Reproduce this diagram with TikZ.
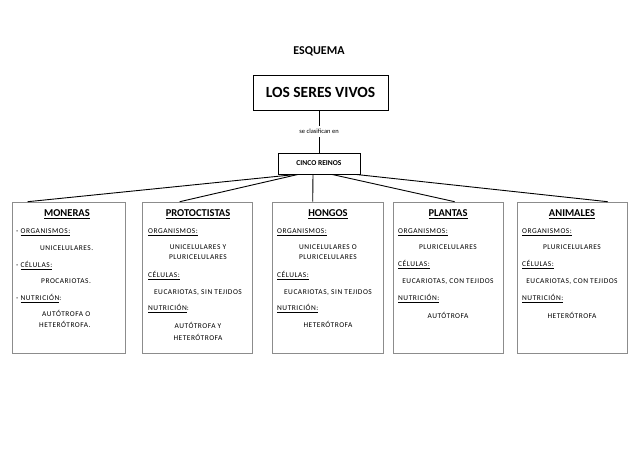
\documentclass[tikz,border=0pt]{standalone}
\usepackage{fontspec}
\setmainfont{Carlito}
\newfontfamily\bodyfont[LetterSpace=7]{Carlito}
\begin{document}
\begin{tikzpicture}[x=1pt,y=-1pt,
  mainbox/.style={draw=black,line width=0.9pt,inner sep=0pt},
  kbox/.style={draw=black!45,line width=0.6pt,inner sep=0pt,minimum height=151pt},
  conn/.style={draw=black,line width=0.9pt},
  ttl/.style={font=\bfseries\fontsize{10.5}{12}\selectfont,inner sep=0pt},
  bd/.style={font=\bodyfont\fontsize{7.4}{8}\selectfont,inner sep=0pt},
  lab/.style={anchor=base west},
  cen/.style={anchor=base}]
\useasboundingbox (0,0) rectangle (638,451);
\fill[white] (0,0) rectangle (638,451);

\node[font=\bfseries\fontsize{12}{14}\selectfont,inner sep=0pt,anchor=base] (esq) at (319,54) {ESQUEMA};

\node[mainbox,minimum width=135pt,minimum height=35pt,font=\bfseries\fontsize{15.5}{18}\selectfont] (seres) at (320.5,92.5) {LOS SERES VIVOS};
\node[mainbox,minimum width=82pt,minimum height=21pt,font=\bfseries\fontsize{7.5}{9}\selectfont] (cinco) at (319,163.5) {CINCO REINOS};

\draw[conn] (seres.south -| cinco.north) -- node[fill=white,inner ysep=3pt,inner xsep=1pt,font=\fontsize{6.5}{8}\selectfont] (clas) {se clasifican en} (cinco.north);

% kingdom boxes
\node[kbox,minimum width=113pt] (mon) at (68.5,277.5) {};
\node[kbox,minimum width=110pt] (pro) at (197,277.5) {};
\node[kbox,minimum width=111pt] (hon) at (327.5,277.5) {};
\node[kbox,minimum width=110pt] (pla) at (448,277.5) {};
\node[kbox,minimum width=110pt] (ani) at (572,277.5) {};

% connectors
\draw[conn] ([xshift=-23pt]cinco.south) -- ([xshift=16pt]mon.north west);
\draw[conn] ([xshift=-21pt]cinco.south) -- ([xshift=38pt]pro.north west);
\draw[conn] ([xshift=-6pt]cinco.south) -- ([xshift=41pt]hon.north west);
\draw[conn] ([xshift=13pt]cinco.south) -- ([xshift=62pt]pla.north west);
\draw[conn] ([xshift=37pt]cinco.south) -- ([xshift=91pt]ani.north west);

% MONERAS
\node[ttl,cen] (monT) at (67,216.5) {\underline{MONERAS}};
\node[bd,lab] (mon1) at (16,233.5) {- \underline{ORGANISMOS:}};
\node[bd,lab] (mon2) at (40,250.5) {UNICELULARES.};
\node[bd,lab] (mon3) at (16,267.5) {- \underline{CÉLULAS:}};
\node[bd,lab] (mon4) at (41,283.5) {PROCARIOTAS.};
\node[bd,lab] (mon5) at (16,300.5) {- \underline{NUTRICIÓN}:};
\node[bd,lab] (mon6) at (42,316.5) {AUTÓTROFA O};
\node[bd,lab] (mon7) at (39,327.5) {HETERÓTROFA.};

% PROTOCTISTAS
\node[ttl,cen] (proT) at (198,216.5) {\underline{PROTOCTISTAS}};
\node[bd,lab] (pro1) at (148,233.5) {\underline{ORGANISMOS:}};
\node[bd,cen] (pro2) at (198,249.5) {UNICELULARES Y};
\node[bd,cen] (pro3) at (198,259.5) {PLURICELULARES};
\node[bd,lab] (pro4) at (148,277.5) {\underline{CÉLULAS:}};
\node[bd,cen] (pro5) at (198,294.5) {EUCARIOTAS, SIN TEJIDOS};
\node[bd,lab] (pro6) at (148,310.5) {\underline{NUTRICIÓN}:};
\node[bd,cen] (pro7) at (198,328.5) {AUTÓTROFA Y};
\node[bd,cen] (pro8) at (198,340.5) {HETERÓTROFA};

% HONGOS
\node[ttl,cen] (honT) at (328,216.5) {\underline{HONGOS}};
\node[bd,lab] (hon1) at (277,233.5) {\underline{ORGANISMOS:}};
\node[bd,cen] (hon2) at (328,249.5) {UNICELULARES O};
\node[bd,cen] (hon3) at (328,259.5) {PLURICELULARES};
\node[bd,lab] (hon4) at (277,277.5) {\underline{CÉLULAS:}};
\node[bd,cen] (hon5) at (328,294.5) {EUCARIOTAS, SIN TEJIDOS};
\node[bd,lab] (hon6) at (277,310.5) {\underline{NUTRICIÓN:}};
\node[bd,cen] (hon7) at (328,327.5) {HETERÓTROFA};

% PLANTAS
\node[ttl,cen] (plaT) at (448,216.5) {\underline{PLANTAS}};
\node[bd,lab] (pla1) at (398,233.5) {\underline{ORGANISMOS:}};
\node[bd,cen] (pla2) at (448,249.5) {PLURICELULARES};
\node[bd,lab] (pla3) at (398,266.5) {\underline{CÉLULAS:}};
\node[bd,cen] (pla4) at (448,283.5) {EUCARIOTAS, CON TEJIDOS};
\node[bd,lab] (pla5) at (398,300.5) {\underline{NUTRICIÓN:}};
\node[bd,cen] (pla6) at (448,318.5) {AUTÓTROFA};

% ANIMALES
\node[ttl,cen] (aniT) at (572,216.5) {\underline{ANIMALES}};
\node[bd,lab] (ani1) at (522,233.5) {\underline{ORGANISMOS:}};
\node[bd,cen] (ani2) at (572,249.5) {PLURICELULARES};
\node[bd,lab] (ani3) at (522,266.5) {\underline{CÉLULAS:}};
\node[bd,cen] (ani4) at (572,283.5) {EUCARIOTAS, CON TEJIDOS};
\node[bd,lab] (ani5) at (522,300.5) {\underline{NUTRICIÓN:}};
\node[bd,cen] (ani6) at (572,318.5) {HETERÓTROFA};
\end{tikzpicture}
\end{document}
